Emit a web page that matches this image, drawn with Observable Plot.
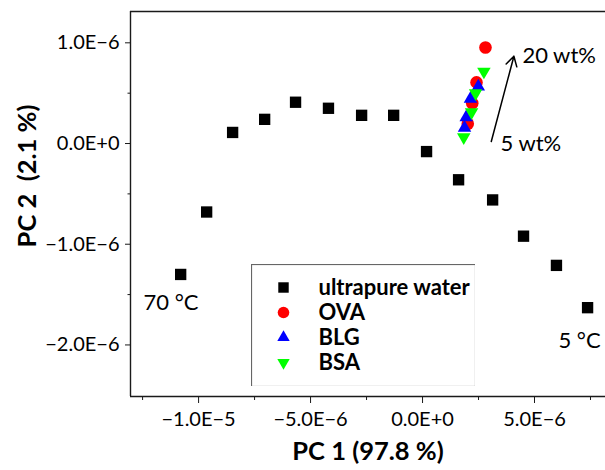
<!DOCTYPE html>
<html><head><meta charset="utf-8">
<script src="https://cdn.jsdelivr.net/npm/d3@7"></script>
<script src="https://cdn.jsdelivr.net/npm/@observablehq/plot@0.6"></script>
<style>
body{margin:0;background:#fff;}
#wrap{position:relative;width:605px;height:470px;font-family:Lato, sans-serif;}
#legend{position:absolute;left:251px;top:264px;}
</style></head><body><div id="wrap"></div>
<script>
// ---- data (PC1, PC2 scores) ----
const waterX = [-10.80e-6, -9.64e-6, -8.48e-6, -7.05e-6, -5.67e-6, -4.20e-6, -2.72e-6, -1.29e-6, 0.18e-6, 1.61e-6, 3.13e-6, 4.51e-6, 5.98e-6, 7.37e-6];
const waterY = [-1.30e-6, -0.68e-6, 0.11e-6, 0.24e-6, 0.41e-6, 0.35e-6, 0.28e-6, 0.28e-6, -0.08e-6, -0.36e-6, -0.56e-6, -0.92e-6, -1.21e-6, -1.63e-6];
const ovaX = [2.02e-6, 2.22e-6, 2.41e-6, 2.81e-6];
const ovaY = [0.196e-6, 0.40e-6, 0.607e-6, 0.954e-6];
const blgX = [1.875e-6, 1.95e-6, 2.14e-6, 2.49e-6];
const blgY = [0.156e-6, 0.261e-6, 0.444e-6, 0.566e-6];
const bsaX = [1.84e-6, 2.19e-6, 2.37e-6, 2.74e-6];
const bsaY = [0.063e-6, 0.311e-6, 0.50e-6, 0.715e-6];

const seriesNames = ["ultrapure water", "OVA", "BLG", "BSA"];
const seriesColors = ["#000000", "#ff0000", "#0000ff", "#00ff00"];
const seriesSymbols = ["square", "circle", "triangle", "triangle"];
const seriesRotate = [0, 0, 0, 180];
const seriesR = [6.4, 6.3, 5, 5];

const xDomain = [-13.04e-6, 8.17e-6];
const yDomain = [-2.512e-6, 1.311e-6];
const xTicks = [-1e-5, -5e-6, 0, 5e-6];
const xTickLabels = ["−1.0E−5", "−5.0E−6", "0.0E+0", "5.0E−6"];
const xMinorTicks = [-1.25e-5, -7.5e-6, -2.5e-6, 2.5e-6, 7.5e-6];
const yTicks = [1e-6, 0, -1e-6, -2e-6];
const yTickLabels = ["1.0E−6", "0.0E+0", "−1.0E−6", "−2.0E−6"];
const yMinorTicks = [0.5e-6, -0.5e-6, -1.5e-6];

const xTitle = "PC 1 (97.8 %)";
const yTitle = "PC 2  (2.1 %)";

const annotText = ["20 wt%", "5 wt%", "70 °C", "5 °C"];
const annotX = [4.46e-6, 3.48e-6, -12.46e-6, 6.07e-6];
const annotY = [0.874e-6, 0.0, -1.58e-6, -1.956e-6];
const arrowFrom = [3.07e-6, 0.02e-6];
const arrowTo = [4.08e-6, 0.867e-6];

// ---- build ----
const zip = (xs, ys) => xs.map((x, i) => ({x, y: ys[i]}));
const seriesData = [zip(waterX, waterY), zip(ovaX, ovaY), zip(blgX, blgY), zip(bsaX, bsaY)];
const annots = annotText.map((t, i) => ({t, x: annotX[i], y: annotY[i]}));

const axisColor = "#1a1a1a";
const main = Plot.plot({
  width: 605, height: 470,
  marginLeft: 130, marginRight: 0, marginTop: 11, marginBottom: 74,
  style: {fontFamily: "Lato, sans-serif", fontSize: "20px", color: "#000", background: "#fff"},
  x: {domain: xDomain},
  y: {domain: yDomain},
  marks: [
    Plot.axisX({ticks: xMinorTicks, tickSize: 4, tickFormat: () => "", label: null, stroke: axisColor}),
    Plot.axisY({ticks: yMinorTicks, tickSize: 2.5, tickFormat: () => "", label: null, stroke: axisColor}),
    Plot.axisX({ticks: xTicks, tickSize: 7, tickPadding: 8, tickFormat: d => xTickLabels[xTicks.indexOf(d)], label: null, stroke: axisColor, fill: "#000"}),
    Plot.axisY({ticks: yTicks, tickSize: 5, tickPadding: 6, tickFormat: d => yTickLabels[yTicks.indexOf(d)], label: null, stroke: axisColor, fill: "#000"}),
    Plot.ruleX([xDomain[0]], {stroke: axisColor, strokeWidth: 1.4}),
    Plot.ruleY([yDomain[0]], {stroke: axisColor, strokeWidth: 1.4}),
    Plot.ruleY([yDomain[1]], {stroke: axisColor, strokeWidth: 1.4}),
    ...seriesData.map((d, i) => Plot.dot(d, {
      x: "x", y: "y", symbol: seriesSymbols[i], fill: seriesColors[i],
      r: seriesR[i], rotate: seriesRotate[i], stroke: "none"
    })),
    Plot.arrow([{x1: arrowFrom[0], y1: arrowFrom[1], x2: arrowTo[0], y2: arrowTo[1]}], {
      x1: "x1", y1: "y1", x2: "x2", y2: "y2", stroke: "#000", strokeWidth: 1.5, headLength: 11, bend: 0
    }),
    Plot.text(annots, {x: "x", y: "y", text: "t", textAnchor: "start", fontSize: 22, fill: "#000"}),
    Plot.text([xTitle], {text: d => d, frameAnchor: "bottom", dy: 55, textAnchor: "middle", lineAnchor: "middle", fontSize: 25.5, fontWeight: "bold", fill: "#000"}),
    Plot.text([yTitle], {text: d => d, frameAnchor: "left", dx: -103, dy: -28, rotate: -90, textAnchor: "middle", lineAnchor: "middle", fontSize: 25.5, fontWeight: "bold", fill: "#000"})
  ]
});

const legend = Plot.plot({
  width: 224, height: 122,
  margin: 0,
  style: {fontFamily: "Lato, sans-serif", fontSize: "22px", color: "#000", background: "#fff"},
  y: {type: "point", domain: seriesNames, range: [22, 98], padding: 0, axis: null},
  marks: [
    Plot.frame({stroke: "#666", strokeWidth: 1.2}),
    ...seriesNames.map((name, i) => Plot.dot([name], {
      y: d => d, frameAnchor: "left", dx: 32, symbol: seriesSymbols[i], fill: seriesColors[i],
      r: seriesR[i] * 0.92, rotate: seriesRotate[i], stroke: "none"
    })),
    Plot.text(seriesNames, {y: d => d, text: d => d, frameAnchor: "left", dx: 67, textAnchor: "start", lineAnchor: "middle", fontWeight: "bold", fontSize: 22, fill: "#000"})
  ]
});
legend.id = "legend";

const wrap = document.getElementById("wrap");
wrap.appendChild(main);
wrap.appendChild(legend);
</script>
</body></html>
